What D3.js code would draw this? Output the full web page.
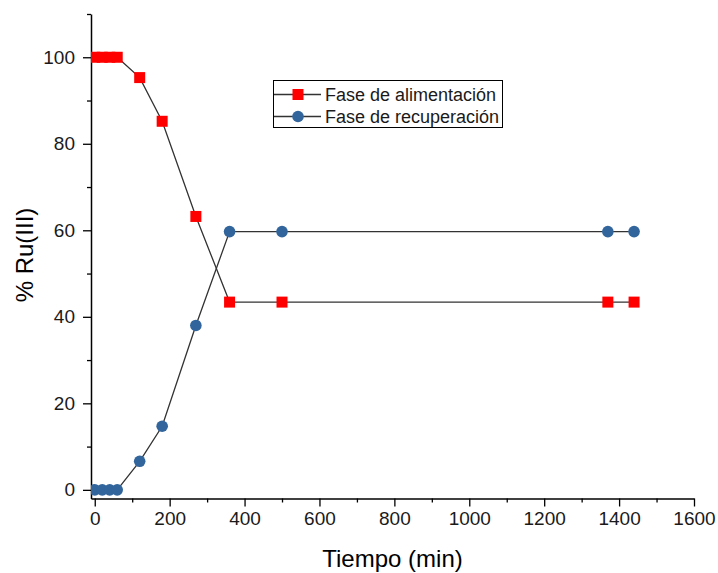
<!DOCTYPE html>
<html>
<head>
<meta charset="utf-8">
<script src="https://cdn.jsdelivr.net/npm/d3@7"></script>
<style>
  body { margin: 0; background: #fff; }
  svg { font-family: Arial, "Liberation Sans", sans-serif; }
</style>
</head>
<body>
<svg id="chart"></svg>
<script>
var width = 718,
    height = 573;

// datos
var tiempo = [0, 20, 40, 60, 120, 180, 270, 360, 500, 1370, 1440];
var alimentacion = [100, 100, 100, 100, 95.3, 85.2, 63.2, 43.4, 43.4, 43.4, 43.4];
var recuperacion = [0, 0, 0, 0, 6.6, 14.7, 38.0, 59.7, 59.7, 59.7, 59.7];
var xTicks = [0, 200, 400, 600, 800, 1000, 1200, 1400, 1600];
var yTicks = [0, 20, 40, 60, 80, 100];
var series = ["Fase de alimentación", "Fase de recuperación"];

var mLeft = 91, mRight = 694, mTop = 14, mBottom = 498.5;

var svg = d3.select("#chart")
    .attr("width", width)
    .attr("height", height);

var x = d3.scaleLinear().domain([-10, 1600]).range([mLeft, mRight]);
var y = d3.scaleLinear().domain([-2, 110]).range([mBottom, mTop]);

svg.append("clipPath").attr("id", "clip")
  .append("rect")
    .attr("x", mLeft).attr("y", mTop)
    .attr("width", mRight - mLeft).attr("height", mBottom - mTop);

// minor ticks
svg.append("g")
    .attr("transform", "translate(0," + mBottom + ")")
    .call(d3.axisBottom(x).tickValues(d3.range(100, 1600, 200)).tickSize(4).tickFormat(""))
    .call(function(g) { g.select(".domain").remove(); })
    .selectAll("line").attr("stroke", "#000").attr("stroke-width", 1.3);

svg.append("g")
    .attr("transform", "translate(" + mLeft + ",0)")
    .call(d3.axisLeft(y).tickValues(d3.range(10, 111, 20)).tickSize(4).tickFormat(""))
    .call(function(g) { g.select(".domain").remove(); })
    .selectAll("line").attr("stroke", "#000").attr("stroke-width", 1.3);

// major ticks
var xAxis = svg.append("g")
    .attr("transform", "translate(0," + mBottom + ")")
    .call(d3.axisBottom(x).tickValues(xTicks).tickFormat(d3.format("d"))
      .tickSize(8).tickPadding(5).tickSizeOuter(0));

var yAxis = svg.append("g")
    .attr("transform", "translate(" + mLeft + ",0)")
    .call(d3.axisLeft(y).tickValues(yTicks).tickFormat(d3.format("d"))
      .tickSize(8).tickPadding(8).tickSizeOuter(0));

[xAxis, yAxis].forEach(function(g) {
  g.select(".domain").attr("stroke", "#000").attr("stroke-width", 1.5);
  g.selectAll(".tick line").attr("stroke", "#000").attr("stroke-width", 1.3);
  g.selectAll(".tick text")
    .attr("fill", "#1a1a1a")
    .style("font-size", "19px")
    .style("font-family", "Arial, 'Liberation Sans', sans-serif");
});

// axis titles
svg.append("text")
    .attr("x", (mLeft + mRight) / 2)
    .attr("y", 567)
    .attr("text-anchor", "middle")
    .style("font-size", "24px")
    .text("Tiempo (min)");

svg.append("text")
    .attr("transform", "translate(33,255) rotate(-90)")
    .attr("text-anchor", "middle")
    .style("font-size", "24px")
    .text("% Ru(III)");

var line = d3.line()
    .x(function(d) { return x(d[0]); })
    .y(function(d) { return y(d[1]); });

var plot = svg.append("g").attr("clip-path", "url(#clip)");

var dataA = tiempo.map(function(t, i) { return [t, alimentacion[i]]; });
var dataR = tiempo.map(function(t, i) { return [t, recuperacion[i]]; });

// serie 1
plot.append("path")
    .datum(dataA)
    .attr("d", line)
    .attr("fill", "none")
    .attr("stroke", "#333")
    .attr("stroke-width", 1.3);

plot.selectAll(".sq")
    .data(dataA)
    .enter().append("rect")
    .attr("class", "sq")
    .attr("x", function(d) { return x(d[0]) - 5.5; })
    .attr("y", function(d) { return y(d[1]) - 5.5; })
    .attr("width", 11)
    .attr("height", 11)
    .attr("fill", "#f00");

// serie 2
plot.append("path")
    .datum(dataR)
    .attr("d", line)
    .attr("fill", "none")
    .attr("stroke", "#333")
    .attr("stroke-width", 1.3);

plot.selectAll(".ci")
    .data(dataR)
    .enter().append("circle")
    .attr("class", "ci")
    .attr("cx", function(d) { return x(d[0]); })
    .attr("cy", function(d) { return y(d[1]); })
    .attr("r", 5.8)
    .attr("fill", "#31659c");

// leyenda
var legend = svg.append("g");
legend.append("rect")
    .attr("x", 273.5).attr("y", 80.5)
    .attr("width", 229).attr("height", 47)
    .attr("fill", "#fff")
    .attr("stroke", "#000")
    .attr("stroke-width", 1);

series.forEach(function(name, i) {
  var cy = 94.5 + i * 22;
  legend.append("line")
    .attr("x1", 274).attr("x2", 321)
    .attr("y1", cy).attr("y2", cy)
    .attr("stroke", "#333").attr("stroke-width", 1.3);
  if (i == 0) {
    legend.append("rect")
      .attr("x", 292.5).attr("y", cy - 5.5)
      .attr("width", 11).attr("height", 11)
      .attr("fill", "#f00");
  } else {
    legend.append("circle")
      .attr("cx", 298).attr("cy", cy).attr("r", 5.8)
      .attr("fill", "#31659c");
  }
  legend.append("text")
    .attr("x", 325)
    .attr("y", cy + 6.5)
    .style("font-size", "18px")
    .attr("fill", "#1a1a1a")
    .text(name);
});
</script>
</body>
</html>
